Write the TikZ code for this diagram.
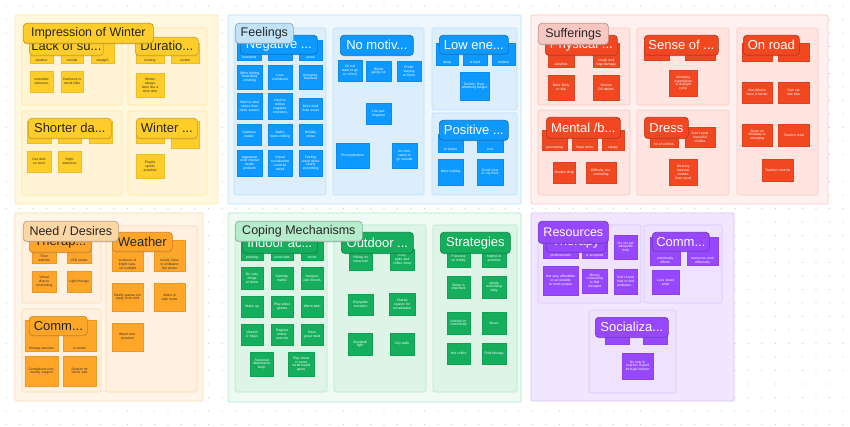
\documentclass[tikz,border=0pt]{standalone}
\usepackage{fontspec}
\setmainfont{Liberation Sans}
\usepackage{tikz}
\usetikzlibrary{shadows}
\definecolor{dotc}{HTML}{C9C9C9}
\definecolor{ylw}{HTML}{FFCD29}
\definecolor{ylwbg}{HTML}{FFF7DE}
\definecolor{ylwsub}{HTML}{FFF5D6}
\definecolor{ylwln}{HTML}{FFE7A0}
\definecolor{ylwhd}{HTML}{FFCD29}
\definecolor{blu}{HTML}{0D99FF}
\definecolor{blubg}{HTML}{EEF7FE}
\definecolor{blusub}{HTML}{DCEEFC}
\definecolor{bluln}{HTML}{BDE1FB}
\definecolor{bluhd}{HTML}{C2E2F8}
\definecolor{rd}{HTML}{F24822}
\definecolor{rdbg}{HTML}{FFF1EF}
\definecolor{rdsub}{HTML}{FFE4E0}
\definecolor{rdln}{HTML}{FFC9C2}
\definecolor{rdhd}{HTML}{F9C7C1}
\definecolor{org}{HTML}{FFA629}
\definecolor{orgbg}{HTML}{FFF5E8}
\definecolor{orgsub}{HTML}{FFF0DF}
\definecolor{orgln}{HTML}{FDDAB0}
\definecolor{orghd}{HTML}{FDD6A6}
\definecolor{grn}{HTML}{14AE5C}
\definecolor{grnbg}{HTML}{EEFAF3}
\definecolor{grnsub}{HTML}{DEF4E7}
\definecolor{grnln}{HTML}{B3EBCA}
\definecolor{grnhd}{HTML}{B5ECCB}
\definecolor{prp}{HTML}{9747FF}
\definecolor{prpbg}{HTML}{F1E6FF}
\definecolor{prpsub}{HTML}{EEE2FE}
\definecolor{prpln}{HTML}{D9C4FB}
\definecolor{prphd}{HTML}{9747FF}
\newcommand{\notefont}{\fontsize{3.4}{3.9}\selectfont}
\newcommand{\pillfont}{\fontsize{13}{14}\selectfont}
\newcommand{\headfont}{\fontsize{12.5}{14}\selectfont}

\begin{document}
\begin{tikzpicture}
 [x=1pt,y=-1pt,
  sec/.style={draw=#1ln,fill=#1bg,line width=0.8pt,rounded corners=2pt},
  grp/.style={draw=#1ln,fill=#1sub,line width=0.6pt,rounded corners=2pt},
  sz/.style 2 args={minimum width=#1pt,minimum height=#2pt},
  note/.style={anchor=north west,inner sep=0.5pt,align=center,font=\notefont,text width=20pt,line width=0.2pt},
  ny/.style={note,fill=ylw,draw=ylw!92!black,text=black!80},
  no/.style={note,fill=org,draw=org!92!black,text=black!80},
  nb/.style={note,fill=blu,draw=blu!92!black,text=white},
  nr/.style={note,fill=rd,draw=rd!92!black,text=white},
  ng/.style={note,fill=grn,draw=grn!92!black,text=white},
  np/.style={note,fill=prp,draw=prp!92!black,text=white},
  pkd/.style={anchor=south,inner sep=1.2pt,font=\notefont,align=center,text width=20pt,text=black!80},
  pkw/.style={pkd,text=white},
  pill/.style={anchor=north west,rounded corners=3.5pt,line width=0.7pt,inner sep=0pt,font=\pillfont,
    drop shadow={shadow xshift=0pt,shadow yshift=-1pt,opacity=0.3}},
  py/.style={pill,fill=ylw,draw=ylw!80!black,text=black!85},
  po/.style={pill,fill=org,draw=org!80!black,text=black!85},
  pb/.style={pill,fill=blu,draw=blu!75!black,text=white},
  pr/.style={pill,fill=rd,draw=rd!75!black,text=white},
  pg/.style={pill,fill=grn,draw=grn!75!black,text=white},
  pp/.style={pill,fill=prp,draw=prp!75!black,text=white},
  hd/.style={pill,fill=#1hd,draw=#1hd!75!black,text=black!85,font=\headfont}]
 \useasboundingbox (0,0) rectangle (850,427);
 \fill[white] (0,0) rectangle (850,427);
 \foreach \i in {0,...,62}
  \foreach \j in {0,...,31}
   \fill[dotc] (\i*13.5+6,\j*13.5+6) circle (0.6);

 % Impression of Winter
 \draw[sec=ylw] (15,15) rectangle (218,204);
 \draw[grp=ylw] (22,28) rectangle (122,105);
 \draw[grp=ylw] (128,28) rectangle (207,105);
 \draw[grp=ylw] (22,111) rectangle (122,195);
 \draw[grp=ylw] (128,111) rectangle (207,195);
 \node[ny,sz={23}{20},label={[pkd]south:weather}] (ls1) at (30,43) {};
 \node[ny,sz={22}{20},label={[pkd]south:outside}] (ls2) at (61,43) {};
 \node[ny,sz={23}{20},label={[pkd]south:daylight}] (ls3) at (91,43) {};
 \node[ny,sz={23}{21}] (ls4) at (30,71) {extended darkness};
 \node[ny,sz={22}{21}] (ls5) at (61,71) {Darkness is mood killer};
 \node[ny,sz={28}{20},label={[pkd]south:looking}] (du1) at (136,43) {};
 \node[ny,sz={28}{20},label={[pkd]south:routine}] (du2) at (171,43) {};
 \node[ny,sz={28}{24}] (du3) at (136,73) {Winter always feels like a slow time};
 \node[ny,sz={24}{22}] (sd1) at (27,121) {};
 \node[ny,sz={23}{22}] (sd2) at (58,121) {};
 \node[ny,sz={23}{22}] (sd3) at (89,121) {};
 \node[ny,sz={24}{21}] (sd4) at (27,151) {Get dark so soon};
 \node[ny,sz={23}{21}] (sd5) at (58,151) {Night darkness};
 \node[ny,sz={28}{22}] (wi1) at (136,121) {};
 \node[ny,sz={28}{27}] (wi2) at (171,121) {};
 \node[ny,sz={28}{24}] (wi3) at (136,154) {Playful sports activities};
 \node[py,sz={74}{18}] (lack) at (29,37) {Lack of su...};
 \node[py,sz={63}{18}] (dura) at (135,37) {Duratio...};
 \node[py,sz={83}{20}] (short) at (28,118) {Shorter da...};
 \node[py,sz={61}{20}] (wint) at (136,118) {Winter ...};
 \node[hd=ylw,sz={130}{20}] (impr) at (23,23) {Impression of Winter};

 % Feelings
 \draw[sec=blu] (228,15) rectangle (521,204);
 \draw[grp=blu] (234,28) rectangle (326,195);
 \draw[grp=blu] (333,28) rectangle (424,195);
 \draw[grp=blu] (432,28) rectangle (517,110);
 \draw[grp=blu] (432,113) rectangle (517,195);
 \node[nb,sz={24}{20},label={[pkw]south:frustrated}] (ng1) at (237,40) {};
 \node[nb,sz={24}{20}] (ng2) at (268,40) {};
 \node[nb,sz={23}{20},label={[pkw]south:alone}] (ng3) at (299,40) {};
 \node[nb,sz={25}{24}] (ng4) at (237,65) {Often feeling frustrating irritating};
 \node[nb,sz={24}{24}] (ng5) at (268,65) {Lose confidence};
 \node[nb,sz={23}{24}] (ng6) at (299,65) {Annoying, hopeless};
 \node[nb,sz={25}{26}] (ng7) at (237,93) {Hard to deal stress than other season};
 \node[nb,sz={24}{26}] (ng8) at (268,93) {Hard to relieve negative emotions};
 \node[nb,sz={23}{21}] (ng9) at (299,98) {More tired than usual};
 \node[nb,sz={24}{21}] (ng10) at (237,124) {Sadness matter};
 \node[nb,sz={24}{21}] (ng11) at (268,124) {Awful, bone-chilling};
 \node[nb,sz={23}{21}] (ng12) at (299,124) {Holiday stress};
 \node[nb,sz={25}{26}] (ng13) at (237,150) {Aggravate exist mental health problem};
 \node[nb,sz={24}{26}] (ng14) at (268,150) {Virtual socialization could be weird};
 \node[nb,sz={23}{26}] (ng15) at (299,150) {Feeling cheat about nearly everything};
 \node[nb,sz={24}{21}] (nm1) at (338,60) {Do not want to go to school};
 \node[nb,sz={25}{20}] (nm2) at (366,61) {Resist going out};
 \node[nb,sz={24}{20}] (nm3) at (397,61) {Prefer staying at home};
 \node[nb,sz={25}{21}] (nm4) at (366,103) {Low participation};
 \node[nb,sz={33}{25},text width=28pt] (nm5) at (336,143) {Procrastination};
 \node[nb,sz={25}{25}] (nm6) at (392,143) {No motivation to go outside};
 \node[nb,sz={22}{22},label={[pkw]south:sleep}] (le1) at (436,43) {};
 \node[nb,sz={24}{22},label={[pkw]south:is hard}] (le2) at (463,43) {};
 \node[nb,sz={23}{22},label={[pkw]south:outdoor}] (le3) at (492,43) {};
 \node[nb,sz={29}{28},text width=26pt] (le4) at (460,72) {Terrible, Overwhelming fatigue};
 \node[nb,sz={25}{18},label={[pkw]south:in winter}] (po1) at (438,134) {};
 \node[nb,sz={26}{18},label={[pkw]south:cool}] (po2) at (477,134) {};
 \node[nb,sz={25}{26}] (po3) at (438,159) {More holiday};
 \node[nb,sz={26}{26}] (po4) at (477,159) {Good view in city lines};
 \node[pb,sz={77}{19}] (nega) at (240,35) {Negative ...};
 \node[pb,sz={73}{20}] (nomo) at (340,35) {No motiv...};
 \node[pb,sz={69}{19}] (lowe) at (439,35) {Low ene...};
 \node[pb,sz={69}{20}] (posi) at (439,120) {Positive ...};
 \node[hd=blu,sz={58}{20}] (feel) at (235,23) {Feelings};

 % Sufferings
 \draw[sec=rd] (531,15) rectangle (828,204);
 \draw[grp=rd] (538,28) rectangle (630,105);
 \draw[grp=rd] (637,28) rectangle (729,105);
 \draw[grp=rd] (737,28) rectangle (818,195);
 \draw[grp=rd] (538,110) rectangle (630,195);
 \draw[grp=rd] (637,110) rectangle (729,195);
 \node[nr,sz={26}{24},label={[pkw]south:activities}] (ph1) at (548,43) {};
 \node[nr,sz={26}{24},label={[pkw]south:cough and lung damage}] (ph2) at (593,43) {};
 \node[nr,sz={26}{25}] (ph3) at (548,75) {More likely to slip};
 \node[nr,sz={26}{25}] (ph4) at (593,75) {Vitamin D3 tablets};
 \node[nr,sz={25}{17}] (se1) at (644,43) {};
 \node[nr,sz={30}{17}] (se2) at (685,43) {};
 \node[nr,sz={28}{26}] (se3) at (669,70) {Annoying expectation of daylight cycle};
 \node[nr,sz={30}{18}] (or1) at (742,43) {};
 \node[nr,sz={31}{18}] (or2) at (778,43) {};
 \node[nr,sz={30}{21},text width=27pt] (or3) at (742,82) {Non-drivers have it harder};
 \node[nr,sz={31}{21}] (or4) at (778,82) {Can not ride bike};
 \node[nr,sz={30}{22}] (or5) at (742,124) {Snow on driveway is annoying};
 \node[nr,sz={31}{22},text width=28pt] (or6) at (778,124) {Traction road};
 \node[nr,sz={31}{22},text width=28pt] (or7) at (762,159) {Traction controls};
 \node[nr,sz={25}{20},label={[pkw]south:processing}] (me1) at (542,130) {};
 \node[nr,sz={25}{20},label={[pkw]south:Slack more}] (me2) at (572,130) {};
 \node[nr,sz={22}{20},label={[pkw]south:sleepy}] (me3) at (602,130) {};
 \node[nr,sz={22}{21}] (me4) at (553,162) {Grades drop};
 \node[nr,sz={30}{21},text width=27pt] (me5) at (586,162) {Difficulty concentrating};
 \node[nr,sz={28}{20},label={[pkw]south:lot of clothes}] (dr1) at (650,127) {};
 \node[nr,sz={30}{20}] (dr2) at (685,127) {Can't wear beautiful clothes};
 \node[nr,sz={28}{26}] (dr3) at (669,159) {Wearing massive clothes than usual};
 \node[pr,sz={72}{20}] (phys) at (545,35) {Physical ...};
 \node[pr,sz={74}{20}] (sens) at (644,35) {Sense of ...};
 \node[pr,sz={56}{20}] (road) at (743,35) {On road};
 \node[pr,sz={74}{21}] (ment) at (546,117) {Mental /b...};
 \node[pr,sz={44}{21}] (dres) at (644,117) {Dress};
 \node[hd=rd,sz={70}{21}] (suff) at (538,23) {Sufferings};

 % Need / Desires
 \draw[sec=org] (15,213) rectangle (203,401);
 \draw[grp=org] (22,226) rectangle (101,303);
 \draw[grp=org] (106,226) rectangle (197,392);
 \draw[grp=org] (22,309) rectangle (101,392);
 \node[no,sz={24}{23},label={[pkd]south:Their website}] (th1) at (32,240) {};
 \node[no,sz={24}{23},label={[pkd]south:LED lamps}] (th2) at (67,240) {};
 \node[no,sz={24}{21}] (th3) at (32,271) {Virtual drop-in counseling};
 \node[no,sz={24}{21}] (th4) at (67,271) {Light therapy};
 \node[no,sz={31}{31},label={[pkd,text width=27pt]south:evidence of bright natural sunlight}] (we1) at (112,240) {};
 \node[no,sz={31}{31},label={[pkd,text width=27pt]south:needs, have to endeavor the winter}] (we2) at (154,240) {};
 \node[no,sz={31}{28},text width=27pt] (we3) at (112,283) {Really wanna run away from cold};
 \node[no,sz={31}{28},text width=27pt] (we4) at (154,283) {Warm \& safe home};
 \node[no,sz={31}{28},text width=27pt] (we5) at (112,323) {Warm temperature};
 \node[no,sz={33}{31},label={[pkd,text width=29pt]south:therapy services}] (co1) at (25,320) {};
 \node[no,sz={33}{31},label={[pkd,text width=29pt]south:in winter}] (co2) at (63,320) {};
 \node[no,sz={33}{30},text width=26pt] (co3) at (25,356) {Centralized community support};
 \node[no,sz={33}{30},text width=29pt] (co4) at (63,356) {System for senior pair};
 \node[po,sz={62}{20}] (ther) at (29,232) {Therap...};
 \node[po,sz={60}{19}] (weat) at (112,232) {Weather};
 \node[po,sz={58}{19}] (comm) at (29,316) {Comm...};
 \node[hd=org,sz={95}{20}] (need) at (23,221) {Need / Desires};

 % Coping Mechanisms
 \draw[sec=grn] (228,213) rectangle (521,402);
 \draw[grp=grn] (235,225) rectangle (327,392);
 \draw[grp=grn] (334,225) rectangle (426,392);
 \draw[grp=grn] (433,225) rectangle (517,392);
 \node[ng,sz={22}{18},label={[pkw]south:painting}] (in1) at (241,242) {};
 \node[ng,sz={22}{18},label={[pkw]south:postcards}] (in2) at (271,242) {};
 \node[ng,sz={22}{18},label={[pkw]south:online}] (in3) at (301,242) {};
 \node[ng,sz={22}{22}] (in4) at (241,267) {Do cozy things at home};
 \node[ng,sz={22}{22}] (in5) at (271,267) {Gaming, Netflix};
 \node[ng,sz={22}{22}] (in6) at (301,267) {Hangout with friends};
 \node[ng,sz={22}{21}] (in7) at (241,296) {Make up};
 \node[ng,sz={22}{21}] (in8) at (271,296) {Play video games};
 \node[ng,sz={22}{21}] (in9) at (301,296) {Warm bath};
 \node[ng,sz={22}{21}] (in10) at (241,324) {Vitamin D helps};
 \node[ng,sz={22}{21}] (in11) at (271,324) {Regular indoor exercise};
 \node[ng,sz={22}{21}] (in12) at (301,324) {Have great meal};
 \node[ng,sz={23}{24}] (in13) at (250,352) {Seasonal depression lamp};
 \node[ng,sz={26}{24}] (in14) at (288,352) {Play chess or some cards board game};
 \node[ng,sz={23}{21}] (ou1) at (349,249) {Hiking on snow trail};
 \node[ng,sz={24}{21}] (ou2) at (390,249) {Cozy patio and coffee shop};
 \node[ng,sz={25}{21}] (ou3) at (348,294) {Enjoyable sunshine};
 \node[ng,sz={26}{22}] (ou4) at (389,293) {Shared spaces for socialization};
 \node[ng,sz={24}{22}] (ou5) at (348,333) {Snowball fight};
 \node[ng,sz={24}{22}] (ou6) at (390,333) {City walk};
 \node[ng,sz={23}{17}] (st1) at (447,250) {Focusing on hobby};
 \node[ng,sz={24}{17}] (st2) at (482,250) {helpful in activities};
 \node[ng,sz={23}{22}] (st3) at (447,276) {Sleep is important};
 \node[ng,sz={24}{22}] (st4) at (482,276) {simply exercising daily};
 \node[ng,sz={23}{22}] (st5) at (447,312) {looking for community};
 \node[ng,sz={24}{22}] (st6) at (482,312) {Music};
 \node[ng,sz={23}{21}] (st7) at (447,343) {Hot coffee};
 \node[ng,sz={24}{21}] (st8) at (482,343) {Find therapy};
 \node[pg,sz={75}{20}] (indo) at (242,233) {Indoor ac...};
 \node[pg,sz={72}{21}] (outd) at (341,232) {Outdoor ...};
 \node[pg,sz={70}{21}] (strat) at (440,232) {Strategies};
 \node[hd=grn,sz={127}{20}] (cope) at (235,221) {Coping Mechanisms};

 % Resources
 \draw[sec=prp] (531,213) rectangle (734,401);
 \draw[grp=prp] (538,225) rectangle (641,303);
 \draw[grp=prp] (644,225) rectangle (722,303);
 \draw[grp=prp] (589,310) rectangle (676,393);
 \node[np,sz={35}{18},label={[pkw,text width=30pt]south:professionals}] (tp1) at (543,240) {};
 \node[np,sz={25}{18},label={[pkw]south:is accepted}] (tp2) at (582,240) {};
 \node[np,sz={23}{24}] (tp3) at (614,235) {Do not get adequate help};
 \node[np,sz={35}{29},text width=30pt] (tp4) at (543,266) {Not very affordable or accessible to most people};
 \node[np,sz={25}{24}] (tp5) at (582,269) {Money consuming to find therapist};
 \node[np,sz={23}{25}] (tp6) at (614,269) {Don't know how to find professio...};
 \node[np,sz={30}{28},label={[pkw,text width=26pt]south:community efforts}] (cm1) at (650,237) {};
 \node[np,sz={31}{28},label={[pkw,text width=27pt]south:resources work effectively}] (cm2) at (687,237) {};
 \node[np,sz={27}{24}] (cm3) at (652,270) {Less street artist};
 \node[np,sz={24}{19}] (so1) at (605,325) {};
 \node[np,sz={24}{19}] (so2) at (643,325) {};
 \node[np,sz={31}{26},text width=28pt] (so3) at (622,353) {No way to express myself through fashion};
 \node[pp,sz={59}{20}] (rthe) at (546,232) {Therapy};
 \node[pp,sz={57}{19}] (rcom) at (652,232) {Comm...};
 \node[pp,sz={73}{20}] (soci) at (595,317) {Socializa...};
 \node[hd=prp,text=white,sz={70}{22}] (reso) at (538,221) {Resources};
\end{tikzpicture}
\end{document}
